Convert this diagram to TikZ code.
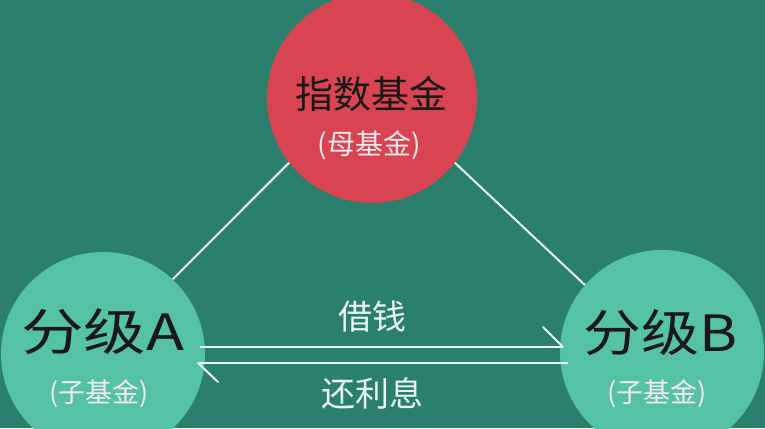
\documentclass[tikz,border=0pt]{standalone}
\usepackage{fontspec}
\setmainfont{Noto Sans CJK SC}
\newfontfamily\cjk{Noto Sans CJK SC}
\definecolor{bg}{HTML}{2A7F6D}
\definecolor{redc}{HTML}{D94452}
\definecolor{tealc}{HTML}{55C2A6}
\definecolor{linec}{HTML}{EAF6F2}
\definecolor{subtxt}{HTML}{F3EAEC}
\tikzset{
  fundball/.style={circle, inner sep=0pt, minimum size=#1},
  conn/.style={draw=linec, line width=2pt},
  lbl/.style={text=linec, font=\cjk\fontsize{34}{40}\selectfont, inner sep=0pt},
  titletxt/.style={inner sep=0pt, text=black!90},
  subtxtstyle/.style={inner sep=0pt, text=subtxt},
}
\begin{document}
\begin{tikzpicture}[x=1pt,y=-1pt]
\useasboundingbox (0,0) rectangle (765,428);
\fill[bg] (0,0) rectangle (765,428);
\begin{scope}
\clip (0,0) rectangle (765,428);
\node[fundball=210pt, fill=redc] (top) at (372,98) {};
\node[fundball=204pt, fill=tealc] (A) at (103,354) {};
\node[fundball=204pt, fill=tealc] (B) at (662,352) {};
\end{scope}
% texts
\node[titletxt, font=\cjk\fontsize{38}{44}\selectfont] (toptitle) at (371,94) {指数基金};
\node[subtxtstyle, font=\cjk\fontsize{28}{32}\selectfont] (topsub) at (369,145) {(母基金)};
\node[titletxt, font=\cjk\fontsize{50}{56}\selectfont] (Atitle) at (102.5,332) {\scalebox{1.25}[1]{分级A}};
\node[subtxtstyle, font=\cjk\fontsize{27}{32}\selectfont] (Asub) at (99,394) {(子基金)};
\node[titletxt, font=\cjk\fontsize{50}{56}\selectfont] (Btitle) at (660.5,333) {\scalebox{1.16}[1]{分级B}};
\node[subtxtstyle, font=\cjk\fontsize{27}{32}\selectfont] (Bsub) at (657,394) {(子基金)};
% side connectors
\draw[conn] (top.218) -- (A.47.5);
\draw[conn] (top.322) -- (B.139.5);
% arrows
\coordinate (a1) at (200,347);
\coordinate (b1) at (563,347);
\coordinate (b2) at (568,363);
\coordinate (a2) at (198,363);
\draw[conn] (a1) -- (b1);
\draw[conn, line cap=round] (b1) -- ++(-20,-20);
\draw[conn] (b2) -- (a2);
\draw[conn, line cap=round] (a2) -- ++(20,19);
\node[lbl] (borrow) at (372,317) {借钱};
\node[lbl] (repay) at (372,393) {还利息};
\end{tikzpicture}
\end{document}
